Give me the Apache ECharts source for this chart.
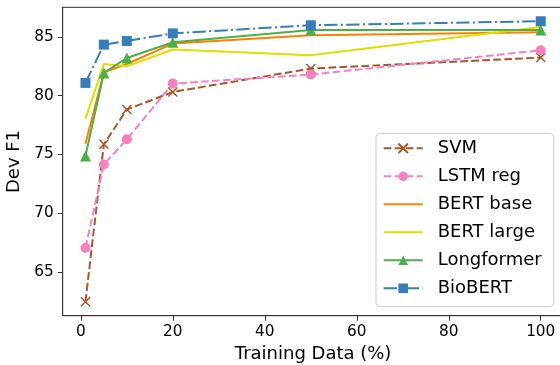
<!DOCTYPE html>
<html>
<head>
<meta charset="utf-8">
<script src="https://cdn.jsdelivr.net/npm/echarts@6/dist/echarts.min.js"></script>
<style>html,body{margin:0;padding:0;background:#fff}#c{width:560px;height:365px}</style>
</head>
<body>
<div id="c"></div>
<script>
const xVals = [1, 5, 10, 20, 50, 100];
const svm = [62.45, 75.87, 78.82, 80.32, 82.31, 83.25];
const lstmReg = [67.04, 74.14, 76.29, 81.03, 81.8, 83.87];
const bertBase = [75.9, 82.0, 82.7, 84.44, 85.15, 85.4];
const bertLarge = [78.05, 82.7, 82.5, 83.93, 83.44, 85.85];
const longformer = [74.87, 81.94, 83.21, 84.55, 85.6, 85.6];
const biobert = [81.09, 84.35, 84.66, 85.31, 86.0, 86.34];
const xTicks = [0, 20, 40, 60, 80, 100];
const yTicks = [65, 70, 75, 80, 85];

const FONT = 'DejaVu Sans';
function pairs(ys) { return xVals.map((x, i) => [x, ys[i]]); }

const defs = [
  { name: 'SVM', data: svm, color: '#a65628', type: [7.7, 3.3], symbol: 'path://M-1,-1L1,1M1,-1L-1,1', size: 9 },
  { name: 'LSTM reg', data: lstmReg, color: '#f781bf', type: [7.7, 3.3], symbol: 'circle', size: 10 },
  { name: 'BERT base', data: bertBase, color: '#ff7f00', type: 'solid', symbol: 'none', size: 0 },
  { name: 'BERT large', data: bertLarge, color: '#dede00', type: 'solid', symbol: 'none', size: 0 },
  { name: 'Longformer', data: longformer, color: '#4daf4a', type: 'solid', symbol: 'triangle', size: 11 },
  { name: 'BioBERT', data: biobert, color: '#377eb8', type: [13.3, 3.3, 2.1, 3.3], symbol: 'rect', size: 10 }
];

const series = defs.map(d => {
  const isX = d.name === 'SVM';
  const noSym = d.symbol === 'none';
  let itemStyle;
  if (isX) itemStyle = { color: 'none', borderColor: d.color, borderWidth: 1.5 };
  else if (noSym) itemStyle = { color: d.color, borderWidth: 0, opacity: 0 };
  else itemStyle = { color: d.color, borderWidth: 0 };
  return {
    name: d.name,
    type: 'line',
    data: pairs(d.data),
    symbol: d.symbol,
    symbolSize: d.size,
    showSymbol: !noSym,
    color: d.color,
    lineStyle: { color: d.color, width: 2, type: d.type, opacity: 1 },
    itemStyle: itemStyle,
    animation: false,
    emphasis: { disabled: true }
  };
});

const legendData = defs.map(d => d.symbol === 'none'
  ? { name: d.name, itemStyle: { opacity: 0 } }
  : { name: d.name });

const chart = echarts.init(document.getElementById('c'), null, { renderer: 'canvas' });
chart.setOption({
  backgroundColor: '#fff',
  animation: false,
  grid: {
    left: 62.7, top: 7.3, width: 500.8, height: 308.4,
    outerBoundsMode: 'none', containLabel: false,
    show: true, borderColor: '#333', borderWidth: 1, backgroundColor: 'transparent'
  },
  xAxis: {
    type: 'value', min: -3.95, max: 104.95,
    name: 'Training Data (%)', nameLocation: 'middle', nameGap: 30,
    nameTextStyle: { fontFamily: FONT, fontSize: 18, color: '#000' },
    axisLine: { show: true, onZero: false, lineStyle: { color: '#333', width: 1 } },
    axisTick: { show: true, length: 5, inside: false, customValues: xTicks, lineStyle: { color: '#333' } },
    axisLabel: { customValues: xTicks, fontFamily: FONT, fontSize: 15.3, color: '#000', margin: 9 },
    splitLine: { show: false }
  },
  yAxis: {
    type: 'value', min: 61.26, max: 87.53,
    name: 'Dev F1', nameLocation: 'middle', nameGap: 34,
    nameTextStyle: { fontFamily: FONT, fontSize: 18, color: '#000' },
    axisLine: { show: true, onZero: false, lineStyle: { color: '#333', width: 1 } },
    axisTick: { show: true, length: 5, inside: false, customValues: yTicks, lineStyle: { color: '#333' } },
    axisLabel: { customValues: yTicks, fontFamily: FONT, fontSize: 15.3, color: '#000', margin: 9 },
    splitLine: { show: false }
  },
  legend: {
    orient: 'vertical',
    left: 376, top: 133.3,
    padding: [4.5, 12, 7.9, 6.7],
    itemWidth: 39, itemHeight: 12, itemGap: 7,
    backgroundColor: 'rgba(255,255,255,0.8)',
    borderColor: '#cccccc', borderWidth: 1, borderRadius: 4,
    textStyle: { fontFamily: FONT, fontSize: 18, color: '#000', lineHeight: 21, padding: [0, 0, 0, 10] },
    data: legendData
  },
  series: series
});
</script>
</body>
</html>
